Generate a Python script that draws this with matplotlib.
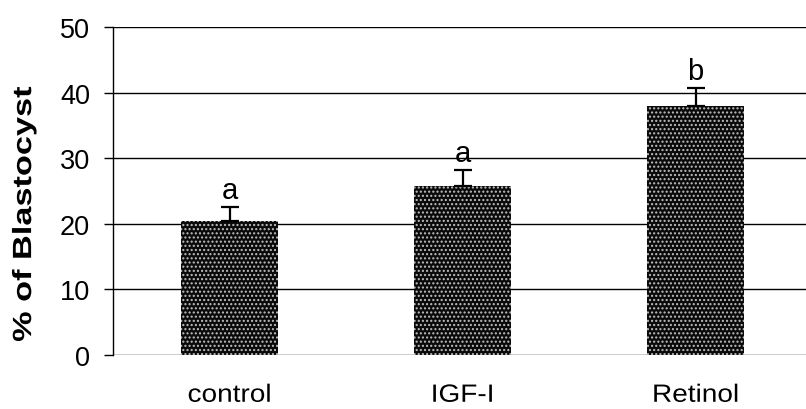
import matplotlib
matplotlib.use("Agg")
import matplotlib.pyplot as plt
import numpy as np
from matplotlib.patheffects import AbstractPathEffect
from matplotlib.transforms import Affine2D

plt.rcParams['font.family'] = ['Liberation Sans', 'DejaVu Sans']
plt.rcParams['hatch.linewidth'] = 1.0

groups = ['control', 'IGF-I', 'Retinol']
values = [20.4, 25.8, 38.0]
errors = [2.2, 2.4, 2.7]
letters = ['a', 'a', 'b']


class Stretch(AbstractPathEffect):
    # widen the glyphs along the text direction (reference text is wide)
    def __init__(self, sx, anchor='center'):
        super().__init__()
        self.sx = sx
        self.anchor = anchor

    def draw_path(self, renderer, gc, tpath, affine, rgbFace=None):
        ext = tpath.get_extents()
        if self.anchor == 'right':
            cx = ext.x1
        else:
            cx = (ext.x0 + ext.x1) / 2
        t = Affine2D().translate(-cx, 0).scale(self.sx, 1).translate(cx, 0) + affine
        renderer.draw_path(gc, tpath, t, rgbFace)


fig = plt.figure(figsize=(8.06, 4.10), dpi=100)
ax = fig.add_axes([113 / 806, 54 / 410, 693 / 806, 328 / 410])

x = np.arange(len(groups)) + 0.5
ax.set_axisbelow(True)
ax.yaxis.grid(True, color='black', linewidth=1.0)
ax.bar(x, values, width=0.416, color='#0a0a0a', edgecolor='#c0c0c0',
       hatch='....', linewidth=0)
ax.errorbar(x, values, yerr=[np.zeros(len(errors)), errors], fmt='none',
            ecolor='black', elinewidth=1.6, capsize=6.5, capthick=1.6)
for xi, v, e, l in zip(x, values, errors, letters):
    ax.text(xi, v + e + 0.4, l, ha='center', va='bottom', fontsize=21)

ax.set_xlim(0, 693 / 233)
ax.set_ylim(0, 50)
ax.set_yticks([0, 10, 20, 30, 40, 50])
ax.set_xticks(x)
ax.set_xticklabels(groups)
ax.tick_params(axis='x', length=0, pad=20, labelsize=18)
ax.tick_params(axis='y', length=6.5, width=1.0, labelsize=19.5, direction='out', pad=10)
for lab in ax.get_xticklabels():
    lab.set_path_effects([Stretch(1.12)])
for s in ['top', 'right', 'bottom']:
    ax.spines[s].set_visible(False)
ax.spines['left'].set_linewidth(1.0)
ylab = ax.set_ylabel('% of Blastocyst', fontsize=19, fontweight='bold')
ylab.set_path_effects([Stretch(1.3)])
ax.yaxis.set_label_coords(-0.111, 0.43)

fig.savefig('out.png', dpi=100)
